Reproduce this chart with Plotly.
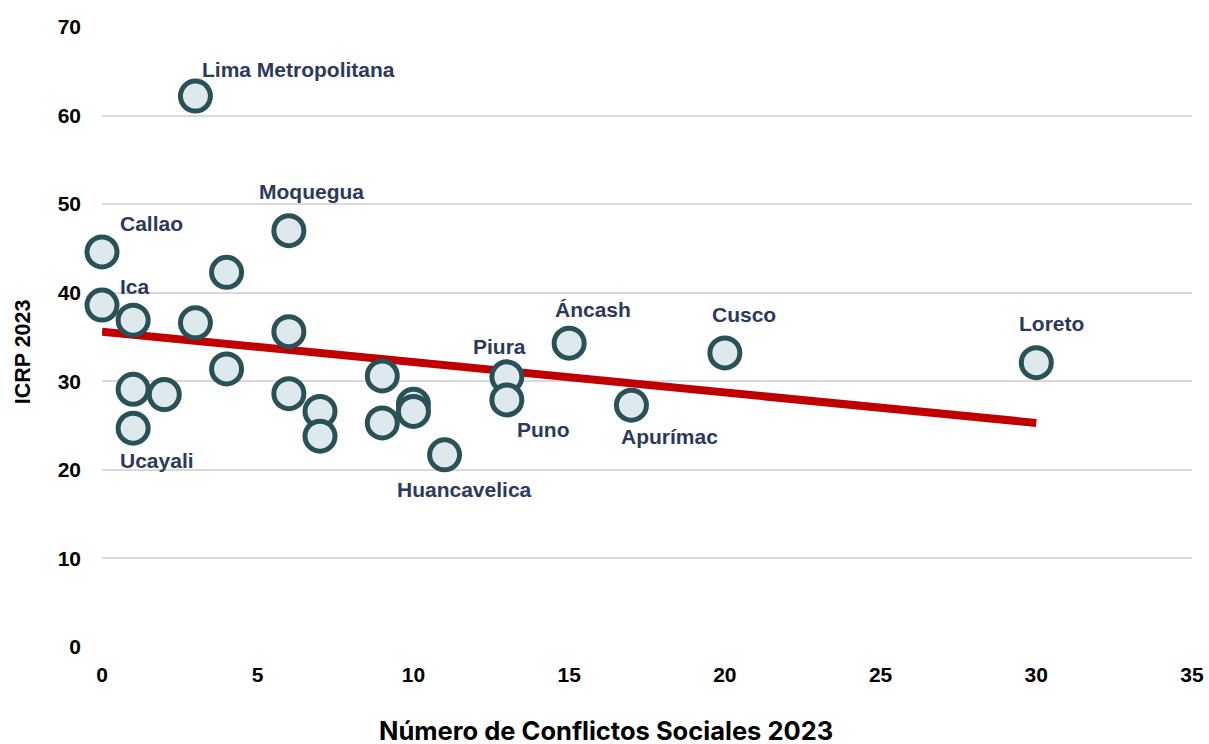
import plotly.graph_objects as go

# regiones: conflictos sociales vs ICRP 2023
conflictos = [3, 6, 0, 4, 0, 1, 3, 6, 4, 1, 2, 6, 1, 7, 7, 9, 9, 10, 10, 11, 13, 13, 15, 17, 20, 30]
icrp = [62.2, 47.0, 44.6, 42.3, 38.6, 36.9, 36.6, 35.6, 31.4, 29.1, 28.5, 28.6, 24.7, 26.6, 23.8,
        30.6, 25.3, 27.4, 26.6, 21.7, 30.5, 27.9, 34.3, 27.3, 33.2, 32.1]

# etiquetas visibles (nombre, x, y, desplazamiento)
etiquetas = ["Lima Metropolitana", "Moquegua", "Callao", "Ica", "Ucayali", "Huancavelica",
             "Piura", "Puno", "Áncash", "Apurímac", "Cusco", "Loreto"]
etiq_x = [3, 6, 0, 0, 1, 11, 13, 13, 15, 17, 20, 30]
etiq_y = [62.2, 47.0, 44.6, 38.6, 24.7, 21.7, 30.5, 27.9, 34.3, 27.3, 33.2, 32.1]
etiq_dx = [5, 23, 16, 16, -15, 20, -7, 37, 24, 38, 19, 15]
etiq_dy = [27, 39, 28, 19, -32, -35, 30, -30, 34, -31, 38, 39]
etiq_anchor = ["left", "center", "left", "left", "left", "center",
               "center", "center", "center", "center", "center", "center"]

# linea de tendencia
tend_x = [0, 30]
tend_y = [35.6, 25.3]

fig = go.Figure()

fig.add_trace(go.Scatter(x=tend_x, y=tend_y, mode='lines',
                         line=dict(color='#c00000', width=8),
                         showlegend=False))

fig.add_trace(go.Scatter(x=conflictos, y=icrp, mode='markers',
                         cliponaxis=False,
                         marker=dict(size=30, color='#dde9ec',
                                     line=dict(color='#2a5157', width=5)),
                         showlegend=False))

for t, x, y, dx, dy, a in zip(etiquetas, etiq_x, etiq_y, etiq_dx, etiq_dy, etiq_anchor):
    fig.add_annotation(x=x, y=y, text='<b>' + t + '</b>', showarrow=False,
                       xanchor=a, yanchor='middle', xshift=dx, yshift=dy,
                       font=dict(family='Liberation Sans, Arial', size=21, color='#2b3a5c'))

# titulos de ejes (algo descentrados como en el original)
fig.add_annotation(xref='paper', yref='paper', x=0.462, y=-0.134,
                   text='<b>Número de Conflictos Sociales 2023</b>', showarrow=False,
                   xanchor='center', yanchor='middle',
                   font=dict(family='Inter, Roboto', size=25.5, color='black'))
fig.add_annotation(xref='paper', yref='paper', x=-0.073, y=0.476,
                   text='<b>ICRP 2023</b>', showarrow=False, textangle=-90,
                   xanchor='center', yanchor='middle',
                   font=dict(family='Liberation Sans, Arial', size=21.5, color='black'))

fig.update_layout(
    width=1209, height=744,
    margin=dict(l=102, r=17, t=27, b=97),
    plot_bgcolor='white', paper_bgcolor='white',
    font=dict(family='Liberation Sans, Arial', size=21, color='black'),
    xaxis=dict(range=[0, 35], dtick=5, showgrid=False, zeroline=False,
               showline=False, ticklabelstandoff=13, automargin=False,
               ticklabeloverflow='allow',
               tickfont=dict(size=21, weight='bold')),
    yaxis=dict(range=[0, 70], dtick=10, showgrid=True, gridcolor='#d9d9d9',
               gridwidth=2, zeroline=False, ticklabelstandoff=20, automargin=False,
               tickfont=dict(size=21, weight='bold')),
)

# sin margen del body para que la figura ocupe toda la ventana
fig.write_html("out.html", config={'displayModeBar': False},
               post_script="document.body.style.margin='0';")
